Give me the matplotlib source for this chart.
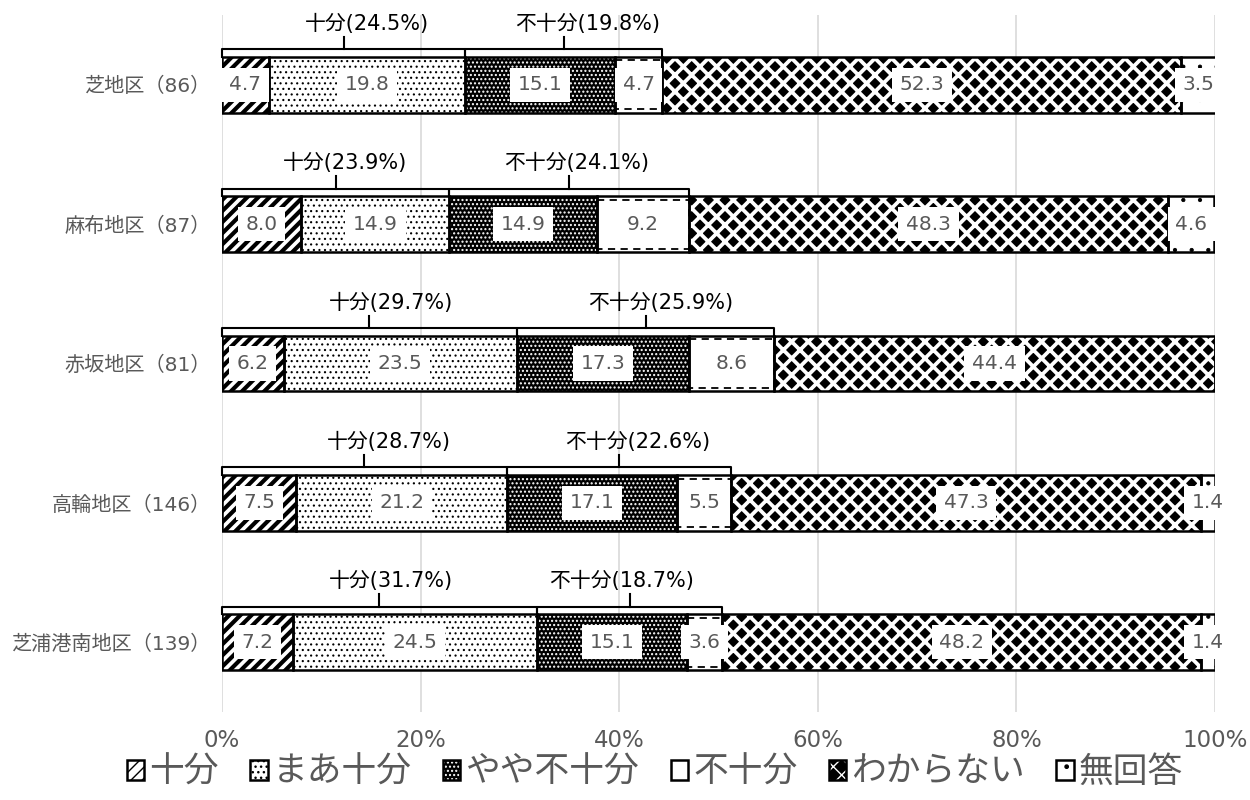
import matplotlib
matplotlib.use("Agg")
import matplotlib.pyplot as plt
import matplotlib.transforms as mtrans
import numpy as np

plt.rcParams['font.family'] = ['DejaVu Sans', 'Noto Sans CJK JP']

categories = ["芝地区（86）", "麻布地区（87）", "赤坂地区（81）", "高輪地区（146）", "芝浦港南地区（139）"]
series_names = ["十分", "まあ十分", "やや不十分", "不十分", "わからない", "無回答"]
juubun = [4.7, 8.0, 6.2, 7.5, 7.2]
maa_juubun = [19.8, 14.9, 23.5, 21.2, 24.5]
yaya_fujuubun = [15.1, 14.9, 17.3, 17.1, 15.1]
fujuubun = [4.7, 9.2, 8.6, 5.5, 3.6]
wakaranai = [52.3, 48.3, 44.4, 47.3, 48.2]
mukaitou = [3.5, 4.6, 0.0, 1.4, 1.4]
sufficient_totals = [24.5, 23.9, 29.7, 28.7, 31.7]
insufficient_totals = [19.8, 24.1, 25.9, 22.6, 18.7]
xticks = [0, 20, 40, 60, 80, 100]
xtick_labels = ["0%", "20%", "40%", "60%", "80%", "100%"]

# layout: horizontal shift (pixels) of the bracket captions relative to the bracket tip
suff_label_shift = [23, 9, 22, 24, 12]
insuff_label_shift = [24, 8, 15, 18, -8]

series = [juubun, maa_juubun, yaya_fujuubun, fujuubun, wakaranai, mukaitou]
# (facecolor, hatchcolor, hatch, hatch linewidth)
styles = [
    ("white", "black", "///", 3.0),
    ("white", "black", "...", 0.8),
    ("black", "white", "....", 1.0),
    ("white", "white", "", 1.0),
    ("black", "white", "xx", 2.7),
    ("white", "black", ".", 0.6),
]

fig = plt.figure(figsize=(12.5, 8), dpi=100)
ax = fig.add_axes([0.1776, 0.11, 0.7944, 0.871])

y = np.arange(len(categories))
h = 0.4
left = np.zeros(len(categories))
gray = "#595959"
handles = []
for k, (vals, name, (fc, hc, hatch, hlw)) in enumerate(zip(series, series_names, styles)):
    vals = np.array(vals)
    plt.rcParams['hatch.linewidth'] = hlw
    bars = ax.barh(y, vals, height=h, left=left, color=fc, edgecolor=hc,
                   hatch=hatch, linewidth=0, zorder=2)
    outl = ax.barh(y, vals, height=h, left=left, facecolor="none", edgecolor="black",
                   linewidth=1.8, zorder=3)
    if k == 3:
        ax.barh(y, vals, height=h - 0.05, left=left, facecolor="none", edgecolor="black",
                linewidth=1.3, linestyle=(0, (4, 3)), zorder=3)
    handles.append((bars[0], outl[0]))
    for i, v in enumerate(vals):
        if v > 0:
            ax.text(left[i] + v / 2, y[i], f"{v:.1f}", ha="center", va="center",
                    fontsize=14.5, color=gray, zorder=5,
                    bbox=dict(boxstyle="square,pad=0.38", fc="white", ec="none"))
    left = left + vals

def bracket(x0, x1, yc, label, shift):
    top = yc - h / 2
    yl = top - 0.055
    ym = (x0 + x1) / 2
    ax.plot([x0, x0, x1, x1], [top, yl, yl, top], color="black", lw=1.5, zorder=4,
            solid_joinstyle="round", clip_on=False)
    ax.plot([ym, ym], [yl, yl - 0.09], color="black", lw=1.5, zorder=4, clip_on=False)
    tr = ax.transData + mtrans.ScaledTranslation(shift / 100, 0, fig.dpi_scale_trans)
    ax.text(ym, yl - 0.11, label, ha="center", va="bottom", fontsize=15,
            color="black", zorder=5, transform=tr)

for i in range(len(categories)):
    s1 = juubun[i] + maa_juubun[i]
    s2 = s1 + yaya_fujuubun[i] + fujuubun[i]
    bracket(0, s1, y[i], f"十分({sufficient_totals[i]:.1f}%)", suff_label_shift[i])
    bracket(s1, s2, y[i], f"不十分({insufficient_totals[i]:.1f}%)", insuff_label_shift[i])

ax.set_xlim(0, 100)
ax.set_ylim(len(categories) - 0.5, -0.5)
ax.set_yticks(y)
ax.set_yticklabels(categories, fontsize=14.5, color=gray)
ax.set_xticks(xticks)
ax.set_xticklabels(xtick_labels, fontsize=16.5, color=gray)
ax.tick_params(axis="x", length=0, pad=12)
ax.tick_params(axis="y", length=0, pad=8)
ax.xaxis.grid(True, color="#d9d9d9", lw=1.2, zorder=0)
ax.set_axisbelow(True)
for sp in ax.spines.values():
    sp.set_visible(False)

plt.rcParams['hatch.linewidth'] = 1.0
leg = fig.legend(handles=handles, labels=series_names, loc="center",
                 bbox_to_anchor=(655 / 1250, 1 - 772 / 800),
                 ncol=6, frameon=False, fontsize=25, handlelength=0.5, handleheight=0.5,
                 handletextpad=0.15, columnspacing=0.9, labelcolor=gray)

fig.savefig("out.png", dpi=100)
